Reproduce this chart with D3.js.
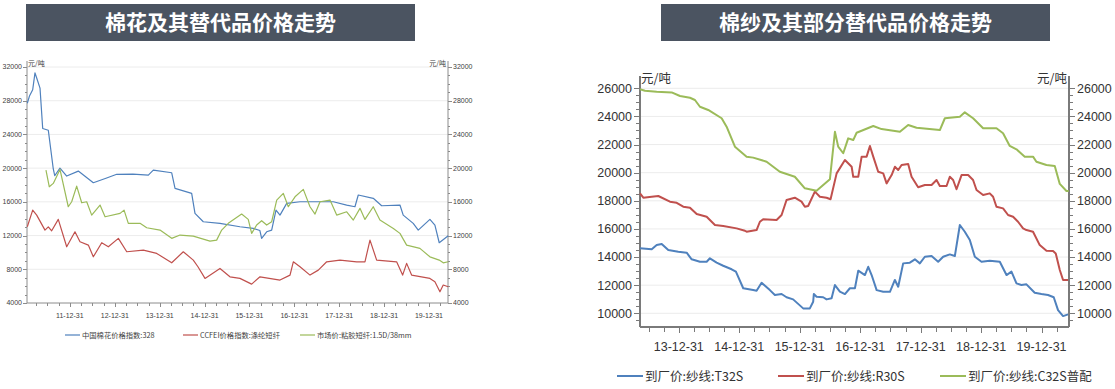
<!DOCTYPE html>
<html><head><meta charset="utf-8">
<script src="https://cdn.jsdelivr.net/npm/d3@7"></script>
<style>body{margin:0;background:#fff}svg{display:block}</style>
</head><body><svg id="c" width="1115" height="389"></svg>
<script>
// ---------- DATA (dates as decimal years, values in 元/吨) ----------
const titleLeft = "棉花及其替代品价格走势";
const titleRight = "棉纱及其部分替代品价格走势";
const unitLabel = "元/吨";

const leftTicksY = [4000, 8000, 12000, 16000, 20000, 24000, 28000, 32000];
const leftYearEnds = ["2011-12-31","2012-12-31","2013-12-31","2014-12-31","2015-12-31","2016-12-31","2017-12-31","2018-12-31","2019-12-31"];
const leftNames = ["中国棉花价格指数:328", "CCFEI价格指数:涤纶短纤", "市场价:粘胶短纤:1.5D/38mm"];

const cottonT = [2011.049,2011.100,2011.169,2011.220,2011.258,2011.332,2011.392,2011.517,2011.628,2011.660,2011.777,2011.927,2012.185,2012.519,2012.800,2013.040,2013.400,2013.744,2013.855,2014.265,2014.339,2014.710,2014.784,2014.969,2015.341,2015.786,2016.082,2016.230,2016.269,2016.381,2016.492,2016.588,2016.677,2016.826,2017.122,2017.864,2018.163,2018.347,2018.421,2018.755,2018.942,2019.350,2019.423,2019.646,2019.758,2020.018,2020.129,2020.225,2020.425];
const cottonV = [27700,28600,29300,31300,30700,29500,24700,24500,19900,19100,20000,19060,19650,18270,18800,19270,19300,19180,19770,19450,17600,17000,14630,13640,13450,13050,12850,12600,11670,12450,12650,15030,14430,15820,16010,16010,15620,15420,16810,16420,15540,15620,14430,13450,12650,13920,13250,11150,11980];

const polyT = [2011.049,2011.169,2011.258,2011.443,2011.517,2011.592,2011.739,2011.927,2012.111,2012.223,2012.408,2012.519,2012.706,2012.853,2013.076,2013.263,2013.633,2013.931,2014.265,2014.523,2014.746,2014.850,2015.007,2015.341,2015.563,2015.786,2016.047,2016.232,2016.677,2016.900,2016.973,2017.122,2017.345,2017.530,2017.717,2018.013,2018.385,2018.570,2018.682,2018.831,2019.276,2019.410,2019.499,2019.610,2020.018,2020.129,2020.241,2020.314,2020.425];
const polyV = [13040,15020,14430,12650,13040,12570,13920,10670,12450,11260,10870,9480,11150,10670,11670,10080,10280,9880,8770,10080,9090,8300,6920,8100,7110,6920,6240,7110,6720,7310,8890,8300,7310,7900,8890,9090,8890,8890,11460,9090,8890,7310,8700,7310,6920,6520,5330,6130,5930];

const viscoseT = [2011.465,2011.539,2011.628,2011.777,2011.962,2012.038,2012.149,2012.261,2012.372,2012.483,2012.668,2012.780,2013.114,2013.203,2013.298,2013.559,2013.708,2014.004,2014.265,2014.450,2014.746,2015.118,2015.267,2015.379,2015.526,2015.824,2015.971,2016.047,2016.158,2016.269,2016.381,2016.492,2016.604,2016.751,2016.862,2017.011,2017.196,2017.345,2017.457,2017.568,2017.791,2017.940,2018.163,2018.310,2018.459,2018.570,2018.755,2018.904,2019.203,2019.350,2019.499,2019.795,2020.018,2020.225,2020.314,2020.425];
const viscoseV = [19770,17790,18190,19850,15420,16010,17870,15890,16010,14430,15620,14230,14630,15020,13450,13450,12930,12650,11670,12060,11940,11350,11460,12650,13450,14550,13920,12260,13250,13760,13250,13640,16210,17000,15420,16600,17480,15420,14550,16010,16210,14430,14820,13840,15230,13920,15420,13840,12850,12260,10870,10480,9480,9090,8770,8890];

const rightTicksY = [10000, 12000, 14000, 16000, 18000, 20000, 22000, 24000, 26000];
const rightYearEnds = ["2013-12-31","2014-12-31","2015-12-31","2016-12-31","2017-12-31","2018-12-31","2019-12-31"];
const rightNames = ["到厂价:纱线:T32S", "到厂价:纱线:R30S", "到厂价:纱线:C32S普配"];

const t32T = [2013.355,2013.549,2013.631,2013.714,2013.823,2013.988,2014.127,2014.210,2014.347,2014.458,2014.512,2014.623,2014.732,2014.871,2014.942,2015.063,2015.228,2015.284,2015.367,2015.504,2015.587,2015.698,2015.780,2015.889,2016.055,2016.165,2016.220,2016.231,2016.276,2016.385,2016.441,2016.524,2016.579,2016.661,2016.744,2016.826,2016.909,2016.964,2017.074,2017.129,2017.185,2017.268,2017.377,2017.488,2017.570,2017.625,2017.707,2017.818,2017.901,2017.983,2018.066,2018.177,2018.286,2018.369,2018.479,2018.562,2018.645,2018.727,2018.810,2018.893,2019.003,2019.140,2019.306,2019.417,2019.499,2019.582,2019.664,2019.747,2019.884,2019.995,2020.104,2020.198,2020.269,2020.352,2020.435];
const t32V = [14620,14550,14850,14930,14500,14380,14310,13840,13670,13670,13910,13610,13380,13130,12960,11780,11650,11600,12170,11650,11300,11370,11140,10990,10350,10350,10820,11370,11180,11140,10990,11070,12010,11540,11370,11780,11780,13030,12720,13310,12720,11650,11530,11530,12370,11890,13550,13600,13840,13550,14020,14070,13670,14020,14190,14070,16280,15800,15210,14020,13670,13740,13670,12720,12960,12130,12010,12060,11460,11370,11300,11140,10230,9800,9920];

const r30T = [2013.355,2013.410,2013.549,2013.658,2013.851,2013.962,2014.071,2014.182,2014.293,2014.458,2014.595,2014.732,2014.954,2015.091,2015.119,2015.284,2015.339,2015.393,2015.615,2015.698,2015.780,2015.917,2016.028,2016.083,2016.137,2016.248,2016.331,2016.441,2016.507,2016.607,2016.744,2016.855,2016.881,2016.964,2017.020,2017.102,2017.157,2017.212,2017.294,2017.377,2017.433,2017.516,2017.570,2017.625,2017.681,2017.790,2017.846,2017.955,2018.066,2018.177,2018.259,2018.314,2018.425,2018.479,2018.534,2018.590,2018.673,2018.782,2018.864,2018.921,2019.030,2019.140,2019.195,2019.251,2019.360,2019.443,2019.526,2019.608,2019.691,2019.747,2019.856,2019.967,2020.078,2020.187,2020.231,2020.298,2020.352,2020.435];
const r30V = [18530,18220,18290,18340,17940,17860,17580,17510,17060,16870,16280,16210,16040,15870,15800,15920,16510,16690,16640,16990,18060,18220,17940,17580,17630,18650,18290,18220,18110,19950,20900,20420,19710,19710,21140,21140,21900,21140,20070,19950,19240,19830,20420,20190,20550,20620,19710,18960,19120,19120,19480,19050,19050,19710,19480,18820,19830,19830,19480,18770,18410,18530,18290,17580,17460,16990,16870,16510,16040,15920,15800,14850,14450,14430,14260,13080,12370,12370];

const c32T = [2013.355,2013.438,2013.631,2013.879,2014.017,2014.182,2014.264,2014.347,2014.484,2014.706,2014.788,2014.926,2015.119,2015.228,2015.450,2015.669,2015.917,2016.083,2016.276,2016.496,2016.579,2016.633,2016.716,2016.798,2016.881,2016.937,2017.212,2017.350,2017.653,2017.790,2017.929,2018.314,2018.397,2018.645,2018.727,2018.864,2019.030,2019.251,2019.360,2019.471,2019.582,2019.719,2019.856,2019.912,2020.078,2020.215,2020.298,2020.408,2020.446];
const c32V = [25930,25830,25760,25710,25450,25330,25170,24690,24460,23870,23270,21850,21140,21070,20780,20070,19710,18890,18720,19530,22910,21850,21380,22440,22320,22840,23320,23100,22910,23390,23200,23030,23870,23980,24290,23870,23160,23160,22800,21900,21660,21140,21140,20780,20550,20480,19200,18700,18700];

const colors = ["#4f81bd", "#c0504d", "#9bbb59"];

// ---------- HELPERS ----------
function dy(t){const y=Math.floor(t);const a=Date.UTC(y,0,1),b=Date.UTC(y+1,0,1);return new Date(a+(t-y)*(b-a));}
const parse = d3.utcParse("%Y-%m-%d");
const fmt = d3.utcFormat("%y-%m-%d");
function zip(T,V){return T.map((t,i)=>({d:dy(t),v:V[i]}));}

const svg = d3.select("#c");
const cjk = "'Noto Sans CJK SC','Microsoft YaHei',sans-serif";
const latin = "'Liberation Sans',Arial,'Noto Sans CJK SC',sans-serif";

function banner(x0,w,text){
  svg.append("rect").attr("x",x0).attr("y",4).attr("width",w).attr("height",37).attr("fill","#4b5461");
  svg.append("text").attr("x",x0+w/2).attr("y",30).attr("text-anchor","middle")
    .attr("fill","#fff").attr("font-family",cjk).attr("font-weight","bold").attr("font-size",21).text(text);
}
banner(26,389,titleLeft);
banner(661,389,titleRight);

function chart(o){
  const g = svg.append("g");
  const x = d3.scaleUtc().domain([dy(o.x0),dy(o.x1)]).range([o.left,o.right]);
  const y = d3.scaleLinear().domain(o.yDomain).range([o.yBottom,o.yTop]);
  // grid
  g.append("g").selectAll("line").data(o.ticksY.filter(v=>y(v)<o.axisY-1)).join("line")
    .attr("x1",o.left).attr("x2",o.right).attr("y1",d=>y(d)).attr("y2",d=>y(d))
    .attr("stroke","#ececec").attr("stroke-width",1);
  // y axes (left and right)
  const minorY = d3.range(o.minorStart, o.ticksY[o.ticksY.length-1]+1, o.minorStep).filter(v=>y(v)<=o.axisY+0.5);
  [[o.left,-1],[o.right,1]].forEach(([ax,dir])=>{
    const a = g.append("g");
    a.append("line").attr("x1",ax).attr("x2",ax).attr("y1",o.axisY).attr("y2",o.axisTop)
      .attr("stroke",o.axisColor).attr("stroke-width",o.axisW);
    a.selectAll(".mn").data(minorY).join("line")
      .attr("x1",ax).attr("x2",ax+dir*o.minorLen).attr("y1",d=>Math.round(y(d))+0.5).attr("y2",d=>Math.round(y(d))+0.5)
      .attr("stroke",o.axisColor).attr("stroke-width",1);
    a.selectAll(".mj").data(o.ticksY).join("line")
      .attr("x1",ax).attr("x2",ax+dir*o.majorLen).attr("y1",d=>Math.round(y(d))+0.5).attr("y2",d=>Math.round(y(d))+0.5)
      .attr("stroke",o.axisColor).attr("stroke-width",1);
    a.selectAll("text").data(o.ticksY).join("text")
      .attr("x",ax+dir*(o.majorLen+o.labelGap)).attr("y",d=>y(d)).attr("dy","0.35em")
      .attr("text-anchor",dir<0?"end":"start").attr("font-family",latin).attr("font-size",o.tickFont)
      .attr("fill",o.textColor).text(d=>d);
  });
  // x axis
  const xa = g.append("g");
  xa.append("line").attr("x1",o.left).attr("x2",o.right).attr("y1",o.axisY).attr("y2",o.axisY)
    .attr("stroke",o.axisColor).attr("stroke-width",o.axisW);
  const yearEnds = o.yearEnds.map(parse);
  const minorX = d3.utcMonth.every(3).range(dy(o.x0),dy(o.x1)).filter(d=>d.getUTCMonth()!==0);
  xa.selectAll(".mn").data(minorX).join("line")
    .attr("x1",d=>Math.round(x(d))+0.5).attr("x2",d=>Math.round(x(d))+0.5).attr("y1",o.axisY).attr("y2",o.axisY+o.minorLenX)
    .attr("stroke",o.axisColor).attr("stroke-width",1);
  xa.selectAll(".mj").data(yearEnds).join("line")
    .attr("x1",d=>Math.round(x(d))+0.5).attr("x2",d=>Math.round(x(d))+0.5).attr("y1",o.axisY).attr("y2",o.axisY+o.majorLenX)
    .attr("stroke",o.axisColor).attr("stroke-width",1);
  xa.selectAll("text").data(yearEnds).join("text")
    .attr("x",d=>x(d)).attr("y",o.xLabelY).attr("text-anchor","middle")
    .attr("font-family",latin).attr("font-size",o.tickFont).attr("fill",o.textColor).text(d=>fmt(d));
  // unit labels
  g.append("text").attr("x",o.left+1).attr("y",o.unitY).attr("font-family",cjk).attr("font-size",o.unitFont)
    .attr("fill",o.textColor).text(unitLabel);
  g.append("text").attr("x",o.right-2).attr("y",o.unitY).attr("text-anchor","end").attr("font-family",cjk).attr("font-size",o.unitFont)
    .attr("fill",o.textColor).text(unitLabel);
  // series
  const line = d3.line().x(d=>x(d.d)).y(d=>y(d.v));
  o.series.forEach((s,i)=>{
    g.append("path").datum(s).attr("d",line).attr("fill","none").attr("stroke",colors[i])
      .attr("stroke-width",o.lineW).attr("stroke-linejoin","round");
  });
  // legend
  o.names.forEach((n,i)=>{
    const lx = o.legendX[i];
    g.append("line").attr("x1",lx).attr("x2",lx+o.legendLen).attr("y1",o.legendY).attr("y2",o.legendY)
      .attr("stroke",colors[i]).attr("stroke-width",o.legendW);
    g.append("text").attr("x",lx+o.legendLen+2).attr("y",o.legendY).attr("dy","0.36em")
      .attr("font-family",cjk).attr("font-size",o.legendFont).attr("fill",o.textColor).text(n);
  });
}

chart({
  x0:2011.042, x1:2020.42, left:27, right:448,
  yDomain:[4000,32000], yBottom:303, yTop:67, axisY:303, axisTop:61,
  ticksY:leftTicksY, minorStart:4000, minorStep:1000, minorLen:2, majorLen:4, labelGap:1,
  axisColor:"#8c8c8c", axisW:1, textColor:"#404040", tickFont:7,
  yearEnds:leftYearEnds, minorLenX:3, majorLenX:4, xLabelY:318,
  unitY:66, unitFont:7,
  series:[zip(cottonT,cottonV), zip(polyT,polyV), zip(viscoseT,viscoseV)], lineW:1.2,
  names:leftNames, legendX:[65,183,300], legendLen:15, legendY:335, legendW:1.2, legendFont:7.3
});

chart({
  x0:2013.355, x1:2020.45, left:640, right:1069,
  yDomain:[10000,26000], yBottom:313.3, yTop:88.3, axisY:327, axisTop:76,
  ticksY:rightTicksY, minorStart:9500, minorStep:500, minorLen:4, majorLen:6, labelGap:2,
  axisColor:"#7a7a7a", axisW:2, textColor:"#333", tickFont:12.5,
  yearEnds:rightYearEnds, minorLenX:5, majorLenX:6, xLabelY:351,
  unitY:83, unitFont:12.5,
  series:[zip(t32T,t32V), zip(r30T,r30V), zip(c32T,c32V)], lineW:2,
  names:rightNames, legendX:[617,778,940], legendLen:26, legendY:376, legendW:2, legendFont:12.5
});
</script></body></html>
